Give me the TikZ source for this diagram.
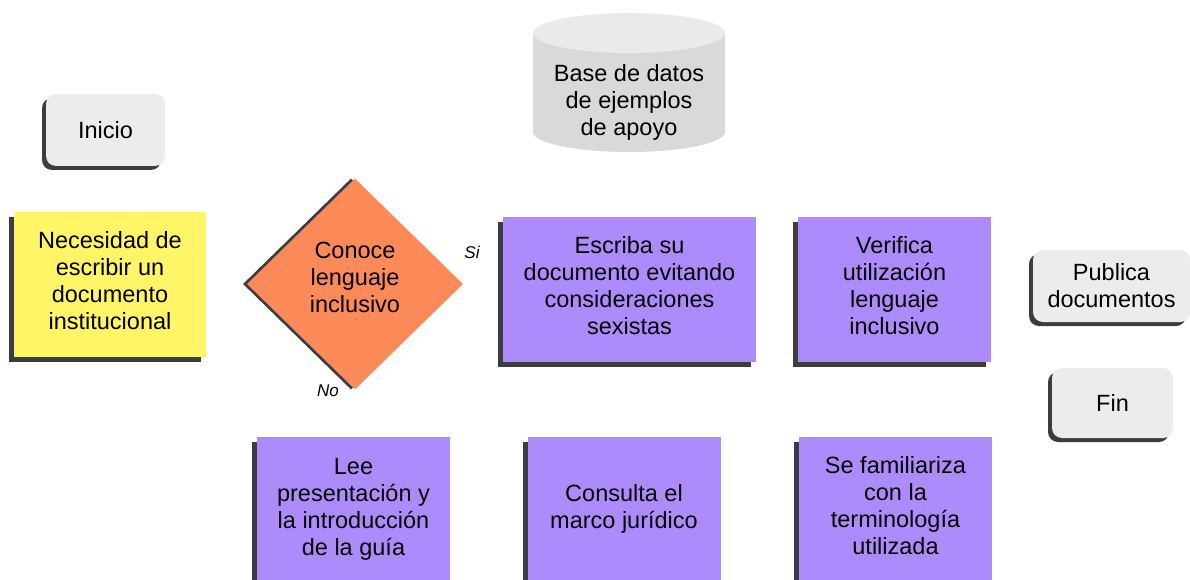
\documentclass[tikz,border=0pt]{standalone}
\usepackage{fontspec}
\setmainfont{Liberation Sans}
\usetikzlibrary{shapes.geometric, shadows}

\definecolor{amarillo}{HTML}{FFF566}
\definecolor{naranja}{HTML}{FD8A59}
\definecolor{morado}{HTML}{AE8BFC}
\definecolor{grisclaro}{HTML}{ECECEC}
\definecolor{griscilindro}{HTML}{D9D9D9}
\definecolor{griscima}{HTML}{EAEAEA}
\definecolor{sombragris}{HTML}{3C3C42}

\begin{document}
\begin{tikzpicture}[x=1pt, y=-1pt,
  every node/.style={font=\fontsize{23.5}{27}\selectfont, align=center, inner sep=0pt},
  sombra/.style={drop shadow={shadow xshift=-5pt, shadow yshift=-5pt, fill=sombragris, opacity=1}},
  caja/.style={rectangle, fill=morado, minimum width=193pt, minimum height=145pt, sombra},
  terminal/.style={rectangle, rounded corners=10pt, fill=grisclaro,
    drop shadow={shadow xshift=-4pt, shadow yshift=-4pt, fill=sombragris, opacity=1}},
  etiqueta/.style={font=\fontsize{17}{20}\selectfont\itshape}
]

\useasboundingbox (0,0) rectangle (1190,580);

% Inicio
\node[terminal, minimum width=119pt, minimum height=72pt] (inicio) at (105.5,130) {Inicio};

% Necesidad
\node[caja, fill=amarillo, minimum width=192pt] (necesidad) at (110,284.5) {};
\node (necesidadtxt) at (110,281) {Necesidad de\\escribir un\\documento\\institucional};

% Decision
\node[diamond, fill=naranja, minimum width=216pt, minimum height=211pt,
  drop shadow={shadow xshift=-4pt, shadow yshift=0pt, fill=sombragris, opacity=1}]
  (conoce) at (355,284) {};
\node (conocetxt) at (355,277) {Conoce\\lenguaje\\inclusivo};
\node[etiqueta] (si) at (472,252) {Si};
\node[etiqueta] (no) at (328,391) {No};

% Base de datos (cilindro)
\fill[griscilindro] (533,33) rectangle (725,132);
\fill[griscilindro] (629,132) ellipse [x radius=96pt, y radius=20pt];
\fill[griscima] (629,33) ellipse [x radius=96pt, y radius=20pt];
\node (bd) at (629,102) {Base de datos\\de ejemplos\\de apoyo};

% Fila superior
\node[caja, minimum width=253pt] (escriba) at (629.5,289.5) {};
\node (escribatxt) at (629.5,285.5)
  {Escriba su\\documento evitando\\consideraciones\\sexistas};
\node[caja] (verifica) at (894.5,289.5) {};
\node (verificatxt) at (894.5,286)
  {Verifica\\utilización\\lenguaje\\inclusivo};

% Fila inferior
\node[caja] (lee) at (353.5,509)
  {Lee\\presentación y\\la introducción\\de la guía};
\node[caja] (consulta) at (624,509)
  {Consulta el\\marco jurídico};
\node[caja] (familiariza) at (895.5,509) {};
\node (familiarizatxt) at (895.5,506)
  {Se familiariza\\con la\\terminología\\utilizada};

% Publica y Fin
\node[terminal, minimum width=157pt, minimum height=72pt] (publica) at (1111.5,286)
  {Publica\\documentos};
\node[terminal, minimum width=121pt, minimum height=70pt] (fin) at (1112.5,403) {Fin};

\end{tikzpicture}
\end{document}
